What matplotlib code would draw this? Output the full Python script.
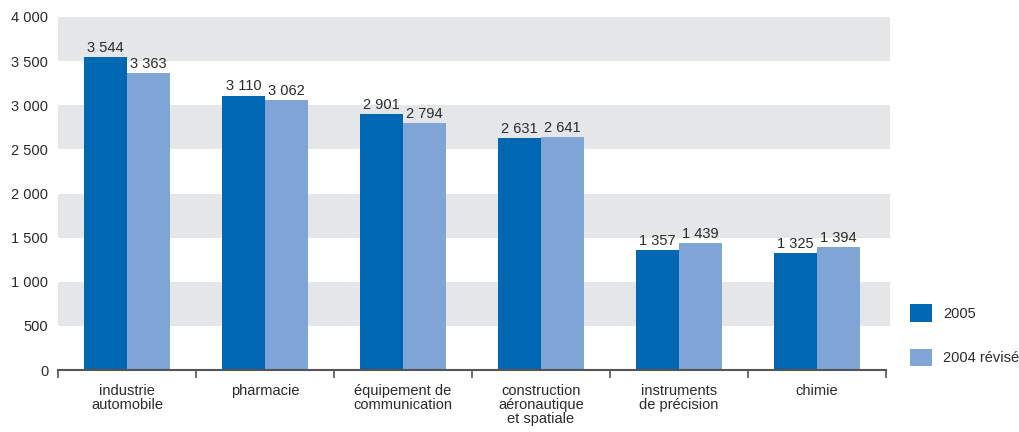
import matplotlib
matplotlib.use("Agg")
import matplotlib.pyplot as plt
from matplotlib import font_manager
import numpy as np

categories = ["industrie\nautomobile", "pharmacie", "équipement de\ncommunication",
              "construction\naéronautique\net spatiale", "instruments\nde précision", "chimie"]
values_2005 = [3544, 3110, 2901, 2631, 1357, 1325]
values_2004 = [3363, 3062, 2794, 2641, 1439, 1394]
series_names = ["2005", "2004 révisé"]
yticks = [0, 500, 1000, 1500, 2000, 2500, 3000, 3500, 4000]

names = {f.name for f in font_manager.fontManager.ttflist}
fam = "Liberation Sans Narrow" if "Liberation Sans Narrow" in names else "Liberation Sans"
plt.rcParams["font.family"] = [fam, "DejaVu Sans"]

dark = "#0068B3"
light = "#7FA5D6"
band = "#E5E6E8"
txt = "#2b2b2b"
fs = 10.5

def fmt(v):
    return f"{v:,}".replace(",", " ")

fig = plt.figure(figsize=(10.2, 4.32), dpi=100)
ax = fig.add_axes([58/1020, 62/432, 828/1020, 353/432])
ax.set_xlim(-0.5, 5.5)
ax.set_ylim(0, 4000)

for lo in [500, 1500, 2500, 3500]:
    ax.axhspan(lo, lo + 500, xmin=0, xmax=832/828, color=band, lw=0, zorder=0, clip_on=False)

x = np.arange(len(categories))
w = 0.31
b1 = ax.bar(x - w/2, values_2005, w, color=dark, zorder=2, label=series_names[0])
b2 = ax.bar(x + w/2, values_2004, w, color=light, zorder=2, label=series_names[1])
for bars, vals in [(b1, values_2005), (b2, values_2004)]:
    for r, v in zip(bars, vals):
        ax.text(r.get_x() + r.get_width()/2, v + 25, fmt(v), ha="center", va="bottom",
                fontsize=fs, color=txt, zorder=3)

for s in ["top", "right", "left"]:
    ax.spines[s].set_visible(False)
ax.spines["bottom"].set_color("#555555")
ax.spines["bottom"].set_linewidth(1.5)

ax.set_yticks(yticks)
ax.set_yticklabels([fmt(v) for v in yticks], fontsize=fs, color=txt)
ax.tick_params(axis="y", length=0, pad=7)

ax.set_xticks(x)
ax.set_xticklabels(categories, fontsize=fs, color=txt, linespacing=1.0, va="top")
ax.tick_params(axis="x", length=0, pad=10)
ax.set_xticks(np.arange(-0.5, 6, 1), minor=True)
ax.tick_params(axis="x", which="minor", length=6, width=1.2, color="#555555", direction="out")

leg = fig.legend(handles=[b1, b2], labels=series_names, loc="lower left",
                 bbox_to_anchor=(898/1020, 54/432), frameon=False, fontsize=fs,
                 handlelength=1.5, handleheight=1.5, labelspacing=1.8, handletextpad=0.8,
                 borderpad=0.3)
for t in leg.get_texts():
    t.set_color(txt)

fig.savefig("out.png", dpi=100)
